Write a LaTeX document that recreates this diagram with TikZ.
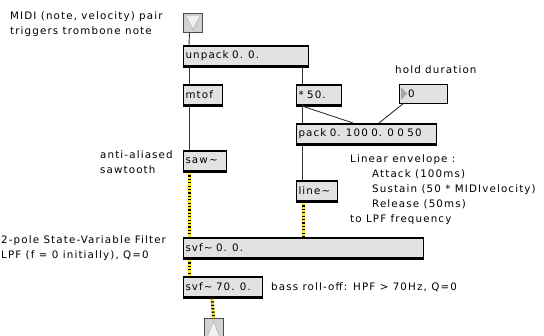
\documentclass[tikz,border=0pt]{standalone}
\usepackage{fontspec}
\newfontfamily\maxfont{DejaVu Sans}[LetterSpace=11]
\newcommand{\mf}{\maxfont\fontsize{10.3}{15.2}\selectfont}
\definecolor{boxgray}{HTML}{E2E2E2}
\definecolor{sigyellow}{HTML}{F5E428}
\begin{document}
\begin{tikzpicture}[x=1pt,y=-1pt,
  lbl/.style={font=\mf, inner sep=0pt, anchor=west},
  obj/.style={draw=black, line width=0.9pt, fill=boxgray, font=\mf, inner xsep=2.5pt, inner ysep=0pt, outer sep=0pt, minimum height=22pt, anchor=north west, align=left},
  cord/.style={line width=0.9pt, draw=black!80},
  sig/.style={line width=3pt, draw=sigyellow, postaction={draw=black, line width=3pt, dash pattern=on 1.2pt off 2.2pt}},
  band/.style={line width=2pt, draw=black},
  btn/.style={draw=gray!60!black, fill=gray!35, line width=0.8pt, minimum size=19pt, inner sep=0pt, outer sep=0pt, anchor=north west},
]
\fill[white] (0,0) rectangle (544,336);
\useasboundingbox (0,0) rectangle (544,336);

% comments
\node[lbl, align=left] (c1) at (10,24) {MIDI (note, velocity) pair\\triggers trombone note};
\node[lbl] (c2) at (395,70) {hold duration};
\node[lbl, align=left] (c3) at (100,162) {anti-aliased\\sawtooth};
\node[lbl, align=left] (c4) at (1,248) {2-pole State-Variable Filter\\LPF (f = 0 initially), Q=0};
\node[lbl, anchor=north west, align=left] (c5) at (350,154) {Linear envelope :\\\hspace*{22pt}Attack (100ms)\\\hspace*{22pt}Sustain (50 * MIDIvelocity)\\\hspace*{22pt}Release (50ms)\\to LPF frequency};
\node[lbl] (c6) at (271,287) {bass roll-off: HPF > 70Hz, Q=0};

% inlet button
\node[btn] (inb) at (183.5,13.5) {};
\fill[white!88!gray, draw=gray!70] ([shift={(2pt,-2pt)}]inb.north west) -- ([shift={(-2pt,-2pt)}]inb.north east) -- ([yshift=3pt]inb.south) -- cycle;

% objects
\node[obj, text width=120pt] (unpack) at (183,45) {unpack 0. 0.};
\node[obj, text width=34pt] (mtof) at (183,84) {mtof};
\node[obj, text width=40pt] (mul) at (296,84) {* 50.};
\node[obj, minimum height=19pt, text width=48pt, inner xsep=0pt, text depth=0pt] (num) at (399,84) {\hspace*{9pt}0};
\fill[gray!70] ([shift={(2pt,-3pt)}]num.north west) -- ([shift={(8pt,0pt)}]num.west) -- ([shift={(2pt,3pt)}]num.south west) -- cycle;
\node[obj, text width=135pt] (pack) at (296,123) {pack 0. 100 0. 0 0 50};
\node[obj, text width=38pt] (saw) at (183,150) {saw\textasciitilde};
\node[obj, text width=36pt] (line) at (296,180) {line\textasciitilde};
\node[obj, text width=235pt] (svf1) at (183,237) {svf\textasciitilde{} 0. 0.};
\node[obj, text width=74pt] (svf2) at (183,276) {svf\textasciitilde{} 70. 0.};

\foreach \n in {unpack,mtof,mul,pack,saw,line,svf1,svf2}{
  \draw[band] ([yshift=-1pt]\n.north west) -- ([yshift=-1pt]\n.north east);
  \draw[band, line width=1.6pt] ([yshift=1pt]\n.south west) -- ([yshift=1pt]\n.south east);
}

% outlet button
\node[btn] (outb) at (204,318) {};
\fill[white!88!gray, draw=gray!70] ([shift={(2pt,-3pt)}]outb.south west) -- ([shift={(-2pt,-3pt)}]outb.south east) -- ([yshift=-3pt]outb.north) -- cycle;

% control cords
\draw[cord] ([xshift=6pt]inb.south west) -- ([xshift=6pt]unpack.north west);
\draw[cord] ([xshift=6pt]unpack.south west) -- ([xshift=6pt]mtof.north west);
\draw[cord] ([xshift=6pt]mul.north west |- unpack.south) -- ([xshift=6pt]mul.north west);
\draw[cord] ([xshift=6pt]mtof.south west) -- ([xshift=6pt]saw.north west);
\draw[cord] ([xshift=6pt]mul.south west) -- ([xshift=6pt]pack.north west);
\draw[cord] ([xshift=6pt]mul.south west) -- ([xshift=57pt]pack.north west);
\draw[cord] ([xshift=5pt]num.south west) -- ([xshift=83pt]pack.north west);
\draw[cord] ([xshift=6pt]pack.south west) -- ([xshift=6pt]line.north west);

% signal cords
\draw[sig] ([xshift=6pt]saw.south west) -- ([xshift=6pt]svf1.north west);
\draw[sig] ([xshift=7pt]line.south west) -- ([xshift=120pt]svf1.north west);
\draw[sig] ([xshift=6pt]svf1.south west) -- ([xshift=6pt]svf2.north west);
\draw[sig] ([xshift=29pt]svf2.south west) -- (outb.north);
\end{tikzpicture}
\end{document}
